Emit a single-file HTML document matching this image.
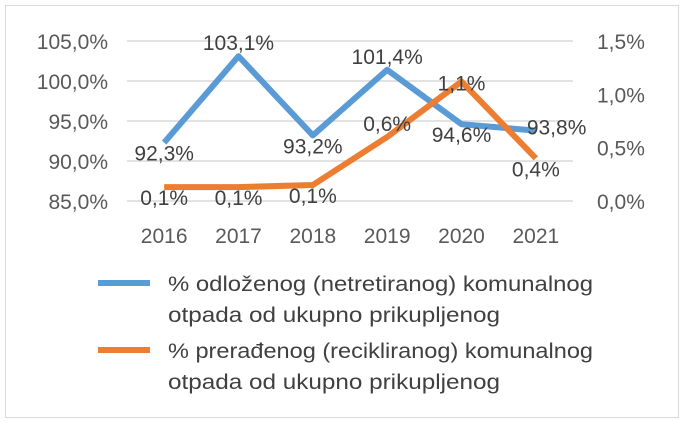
<!DOCTYPE html>
<html><head><meta charset="utf-8"><style>
body{margin:0;background:#fff;}
svg{display:block;font-family:"Liberation Sans",sans-serif;}
</style></head><body>
<svg id="c" width="684" height="423">
<rect x="5.5" y="5.5" width="673" height="412" fill="#fff" stroke="#d9d9d9"/>
<g id="grid"></g><g id="axes"></g><g id="series"></g><g id="labels"></g>
<g>
<line x1="98" y1="283" x2="150" y2="283" stroke="#5b9bd5" stroke-width="6"/>
<text x="168" y="291" font-size="21" textLength="425" lengthAdjust="spacingAndGlyphs" fill="#404040">% odloženog (netretiranog) komunalnog</text>
<text x="168" y="322" font-size="21" textLength="332" lengthAdjust="spacingAndGlyphs" fill="#404040">otpada od ukupno prikupljenog</text>
<line x1="98" y1="350" x2="150" y2="350" stroke="#ed7d31" stroke-width="6"/>
<text x="168" y="358" font-size="21" textLength="425" lengthAdjust="spacingAndGlyphs" fill="#404040">% prerađenog (recikliranog) komunalnog</text>
<text x="168" y="389" font-size="21" textLength="332" lengthAdjust="spacingAndGlyphs" fill="#404040">otpada od ukupno prikupljenog</text>
</g>
</svg>
<script>
const categories=["2016","2017","2018","2019","2020","2021"];
const blueValues=[92.3,103.1,93.2,101.4,94.6,93.8];
const orangeValues=[0.13,0.13,0.15,0.6,1.12,0.4];
const blueLabels=["92,3%","103,1%","93,2%","101,4%","94,6%","93,8%"];
const orangeLabels=["0,1%","0,1%","0,1%","0,6%","1,1%","0,4%"];
const blueLabelPos=["below","above","below","above","below","right"];
const orangeLabelPos=["below","below","below","above","on","below"];
const leftTicks=[85,90,95,100,105];
const leftTickLabels=["85,0%","90,0%","95,0%","100,0%","105,0%"];
const rightTicks=[0,0.5,1,1.5];
const rightTickLabels=["0,0%","0,5%","1,0%","1,5%"];
const NS="http://www.w3.org/2000/svg";
const x0=127,x1=573,yTop=41,yBot=201;
const xPos=i=>x0+(x1-x0)/categories.length*(i+0.5);
const yL=v=>yBot-(v-85)/20*(yBot-yTop);
const yR=v=>yBot-v/1.5*(yBot-yTop);
function mk(tag,attrs,parent,text){const e=document.createElementNS(NS,tag);for(const k in attrs)e.setAttribute(k,attrs[k]);if(text!==undefined)e.textContent=text;document.getElementById(parent).appendChild(e);return e;}
leftTicks.forEach((t,i)=>{
 const g=mk('line',{x1:x0,x2:x1,y1:yL(t),y2:yL(t),stroke:'#d9d9d9','stroke-width':1.5},'grid');
 
 
 const l=mk('text',{x:108,y:yL(t)+8,'text-anchor':'end','font-size':21,fill:'#595959'},'axes',leftTickLabels[i]);
 
 
});
rightTicks.forEach((t,i)=>{
 const l=mk('text',{x:597,y:yR(t)+8,'font-size':21,fill:'#595959'},'axes',rightTickLabels[i]);
 
 
});
categories.forEach((c,i)=>{
 const l=mk('text',{x:xPos(i),y:243,'text-anchor':'middle','font-size':21,fill:'#595959'},'axes',c);
 
 
});
function series(vals,yf,color,name,labels,pos){
 const pts=vals.map((v,i)=>xPos(i)+','+yf(v)).join(' ');
 const p=mk('polyline',{points:pts,fill:'none',stroke:color,'stroke-width':6,'stroke-linejoin':'round'},'series');
 
 
 vals.forEach((v,i)=>{
  let x=xPos(i),y=yf(v),a='middle';
  if(pos[i]==='below')y+=18;else if(pos[i]==='above')y-=6;else if(pos[i]==='on')y+=9;else{x+=-9;a='start';y+=4;}
  const t=mk('text',{x:x,y:y,'text-anchor':a,'font-size':21,fill:'#404040'},'labels',labels[i]);
  
  
 });
}
series(blueValues,yL,'#5b9bd5','blue-series',blueLabels,blueLabelPos);
series(orangeValues,yR,'#ed7d31','orange-series',orangeLabels,orangeLabelPos);
</script>
</body></html>
